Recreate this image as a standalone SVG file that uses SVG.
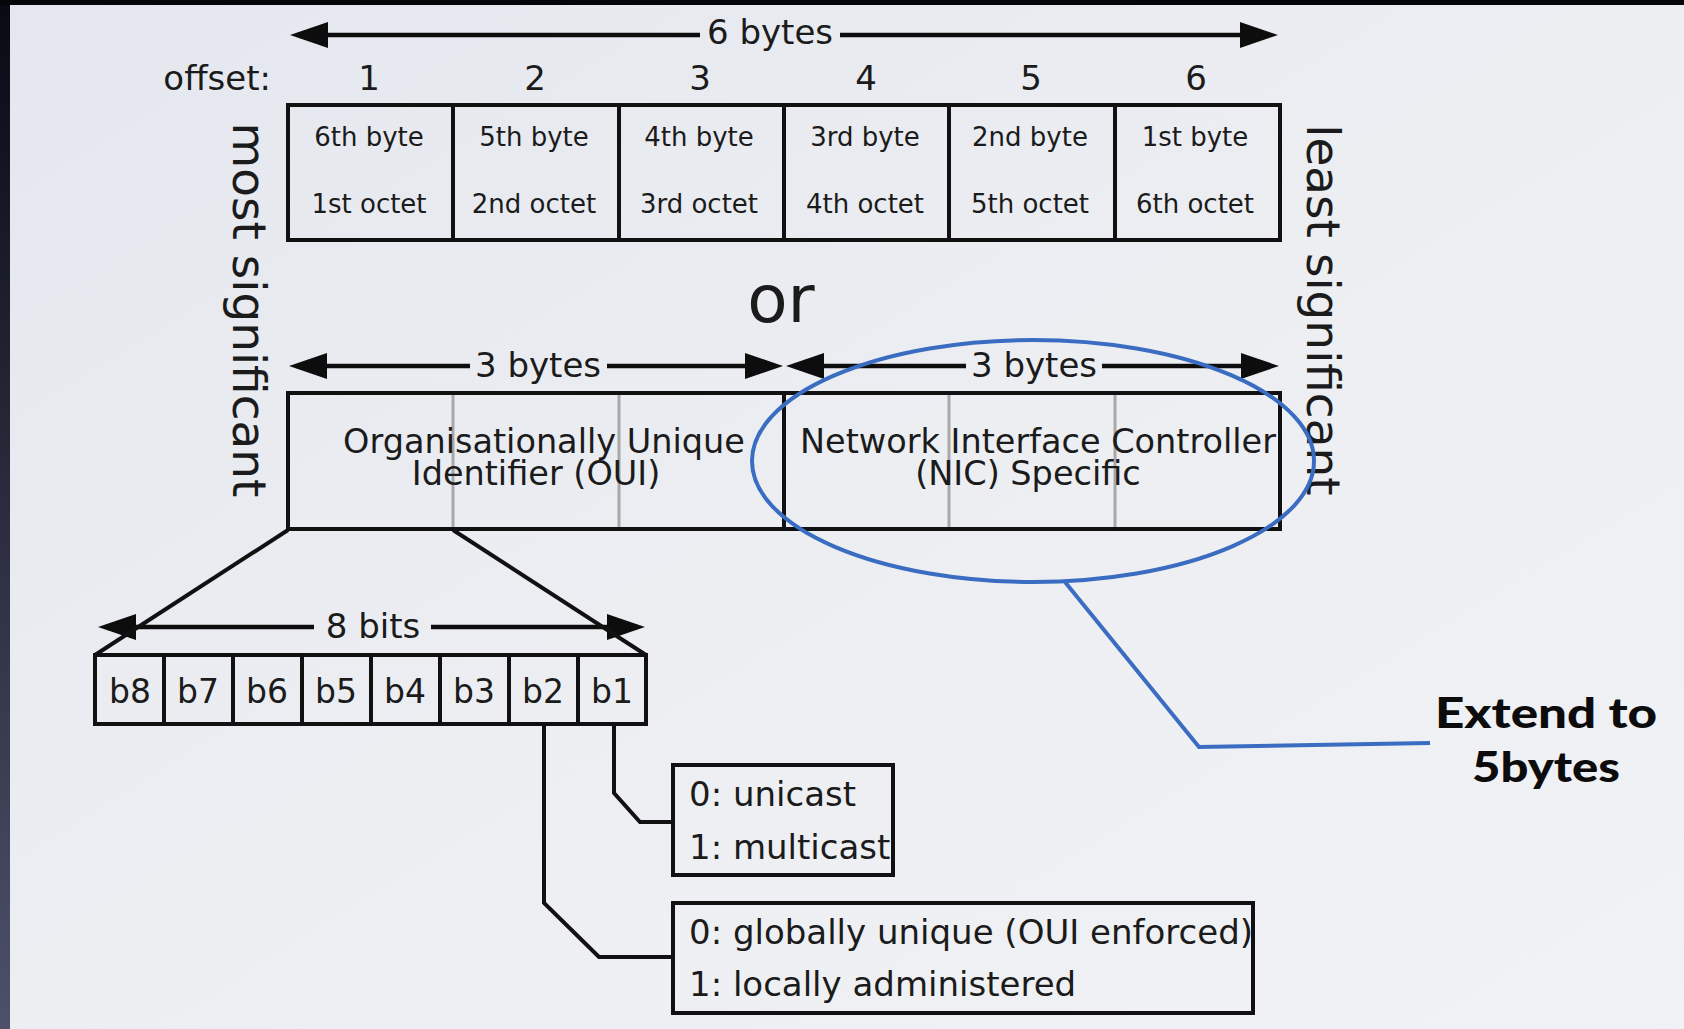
<svg xmlns="http://www.w3.org/2000/svg" width="1684" height="1029" viewBox="0 0 1684 1029">
  <style>
    .t { font-family: "DejaVu Sans", "Liberation Sans", sans-serif; fill: #1b1b1b; }
    .lbl { font-size: 34px; }
    .cell { font-size: 26px; text-anchor: middle; }
    .mid { text-anchor: middle; }
    .box { fill: none; stroke: #111; stroke-width: 4; }
    .sep { stroke: #111; stroke-width: 4; }
    .faint { stroke: #a8a8a8; stroke-width: 3; }
    .dim { stroke: #0d0d0d; stroke-width: 4.5; fill: none; }
    .lead { stroke: #111; stroke-width: 4; fill: none; stroke-linejoin: miter; }
    .blue { stroke: #3a6dc1; stroke-width: 4; fill: none; }
    .note { font-family: Lato, "Open Sans", "Liberation Sans", sans-serif; font-weight: 900; font-size: 42px; fill: #0c0c0c; text-anchor: middle; }
  </style>
  <defs>
    <linearGradient id="edge" x1="0" y1="0" x2="0" y2="1">
      <stop offset="0" stop-color="#080a14"/>
      <stop offset="1" stop-color="#4d5069"/>
    </linearGradient>
    <linearGradient id="paper" x1="0" y1="0" x2="1" y2="1">
      <stop offset="0" stop-color="#e4e7ee"/>
      <stop offset="0.5" stop-color="#eceef2"/>
      <stop offset="1" stop-color="#f1f2f5"/>
    </linearGradient>
    <marker id="head" markerUnits="userSpaceOnUse" markerWidth="40" markerHeight="30" refX="30" refY="14" orient="auto-start-reverse">
      <path d="M0,1 L38,14 L0,27 z" fill="#0d0d0d"/>
    </marker>
  </defs>

  <!-- slide frame -->
  <rect width="1684" height="1029" fill="#05060a"/>
  <rect x="0" y="5" width="10" height="1024" fill="url(#edge)"/>
  <rect x="10" y="5" width="1674" height="1024" fill="url(#paper)"/>

  <!-- dimension arrows -->
  <g id="dimensions">
    <line class="dim" x1="298" y1="35" x2="700" y2="35" marker-start="url(#head)"/>
    <line class="dim" x1="840" y1="35" x2="1270" y2="35" marker-end="url(#head)"/>
    <text class="t lbl mid" x="770" y="44">6 bytes</text>

    <line class="dim" x1="297" y1="366" x2="470" y2="366" marker-start="url(#head)"/>
    <line class="dim" x1="607" y1="366" x2="775" y2="366" marker-end="url(#head)"/>
    <text class="t lbl mid" x="538" y="377">3 bytes</text>

    <line class="dim" x1="794" y1="366" x2="966" y2="366" marker-start="url(#head)"/>
    <line class="dim" x1="1102" y1="366" x2="1271" y2="366" marker-end="url(#head)"/>
    <text class="t lbl mid" x="1034" y="377">3 bytes</text>

    <line class="dim" x1="106" y1="627" x2="314" y2="627" marker-start="url(#head)"/>
    <line class="dim" x1="431" y1="627" x2="637" y2="627" marker-end="url(#head)"/>
    <text class="t lbl mid" x="373" y="638">8 bits</text>
  </g>

  <!-- offsets -->
  <g id="offsets" class="t lbl">
    <text x="271" y="90" text-anchor="end">offset:</text>
    <text class="mid" x="369" y="90">1</text>
    <text class="mid" x="535" y="90">2</text>
    <text class="mid" x="700" y="90">3</text>
    <text class="mid" x="866" y="90">4</text>
    <text class="mid" x="1031" y="90">5</text>
    <text class="mid" x="1196" y="90">6</text>
  </g>

  <!-- six octet row -->
  <g id="octet-row">
    <rect class="box" x="288" y="105" width="992" height="135"/>
    <line class="sep" x1="453" y1="105" x2="453" y2="240"/>
    <line class="sep" x1="619" y1="105" x2="619" y2="240"/>
    <line class="sep" x1="784" y1="105" x2="784" y2="240"/>
    <line class="sep" x1="949" y1="105" x2="949" y2="240"/>
    <line class="sep" x1="1115" y1="105" x2="1115" y2="240"/>
    <g class="t cell">
      <text x="369" y="146">6th byte</text>
      <text x="369" y="213">1st octet</text>
      <text x="534" y="146">5th byte</text>
      <text x="534" y="213">2nd octet</text>
      <text x="699" y="146">4th byte</text>
      <text x="699" y="213">3rd octet</text>
      <text x="865" y="146">3rd byte</text>
      <text x="865" y="213">4th octet</text>
      <text x="1030" y="146">2nd byte</text>
      <text x="1030" y="213">5th octet</text>
      <text x="1195" y="146">1st byte</text>
      <text x="1195" y="213">6th octet</text>
    </g>
  </g>

  <text id="or" class="t" x="781" y="322" font-size="66" text-anchor="middle">or</text>

  <!-- significance labels -->
  <text id="most-significant" class="t" font-size="47" text-anchor="middle" transform="translate(233,310) rotate(90)">most significant</text>
  <text id="least-significant" class="t" font-size="47" text-anchor="middle" transform="translate(1307,310) rotate(90)">least significant</text>

  <!-- OUI / NIC row -->
  <g id="oui-box">
    <line class="faint" x1="453" y1="393" x2="453" y2="529"/>
    <line class="faint" x1="619" y1="393" x2="619" y2="529"/>
    <path class="box" d="M784,393 H288 V529 H784"/>
    <text class="t mid" x="544" y="453" font-size="33.5" fill="#2a2a2a">Organisationally Unique</text>
    <text class="t mid" x="536" y="485" font-size="33.5" fill="#2a2a2a">Identifier (OUI)</text>
  </g>
  <g id="nic-box">
    <line class="faint" x1="949" y1="393" x2="949" y2="529"/>
    <line class="faint" x1="1115" y1="393" x2="1115" y2="529"/>
    <rect class="box" x="784" y="393" width="496" height="136"/>
    <text class="t mid" x="1038" y="453" font-size="33.5" fill="#2a2a2a">Network Interface Controller</text>
    <text class="t mid" x="1028" y="485" font-size="33.5" fill="#2a2a2a">(NIC) Specific</text>
  </g>

  <!-- bit row -->
  <g id="bit-row">
    <rect class="box" x="95" y="655" width="551" height="69"/>
    <line class="sep" x1="164" y1="655" x2="164" y2="724"/>
    <line class="sep" x1="233" y1="655" x2="233" y2="724"/>
    <line class="sep" x1="302" y1="655" x2="302" y2="724"/>
    <line class="sep" x1="371" y1="655" x2="371" y2="724"/>
    <line class="sep" x1="440" y1="655" x2="440" y2="724"/>
    <line class="sep" x1="509" y1="655" x2="509" y2="724"/>
    <line class="sep" x1="578" y1="655" x2="578" y2="724"/>
    <g class="t mid" font-size="33">
      <text x="130" y="703">b8</text>
      <text x="198" y="703">b7</text>
      <text x="267" y="703">b6</text>
      <text x="336" y="703">b5</text>
      <text x="405" y="703">b4</text>
      <text x="474" y="703">b3</text>
      <text x="543" y="703">b2</text>
      <text x="612" y="703">b1</text>
    </g>
  </g>

  <!-- flag legends -->
  <g id="cast-box">
    <rect class="box" x="673" y="765" width="220" height="110"/>
    <text class="t lbl" x="689" y="806">0: unicast</text>
    <text class="t lbl" x="689" y="859">1: multicast</text>
  </g>
  <g id="admin-box">
    <rect class="box" x="673" y="903" width="580" height="110"/>
    <text class="t lbl" x="689" y="944">0: globally unique (OUI enforced)</text>
    <text class="t lbl" x="689" y="996">1: locally administered</text>
  </g>

  <!-- connectors -->
  <g id="connectors">
    <line class="lead" x1="288" y1="530" x2="95" y2="655"/>
    <line class="lead" x1="453" y1="530" x2="646" y2="655"/>
    <polyline class="lead" points="614,724 614,793 640,822 673,822"/>
    <polyline class="lead" points="544,724 544,903 599,957 673,957"/>
    <ellipse class="blue" cx="1033" cy="461" rx="281" ry="121"/>
    <polyline class="blue" points="1065,582 1199,747 1430,743"/>
  </g>

  <!-- annotation -->
  <g id="extend-note">
    <text class="note" x="1546" y="728" textLength="222" lengthAdjust="spacingAndGlyphs">Extend to</text>
    <text class="note" x="1546" y="782" textLength="148" lengthAdjust="spacingAndGlyphs">5bytes</text>
  </g>
</svg>
